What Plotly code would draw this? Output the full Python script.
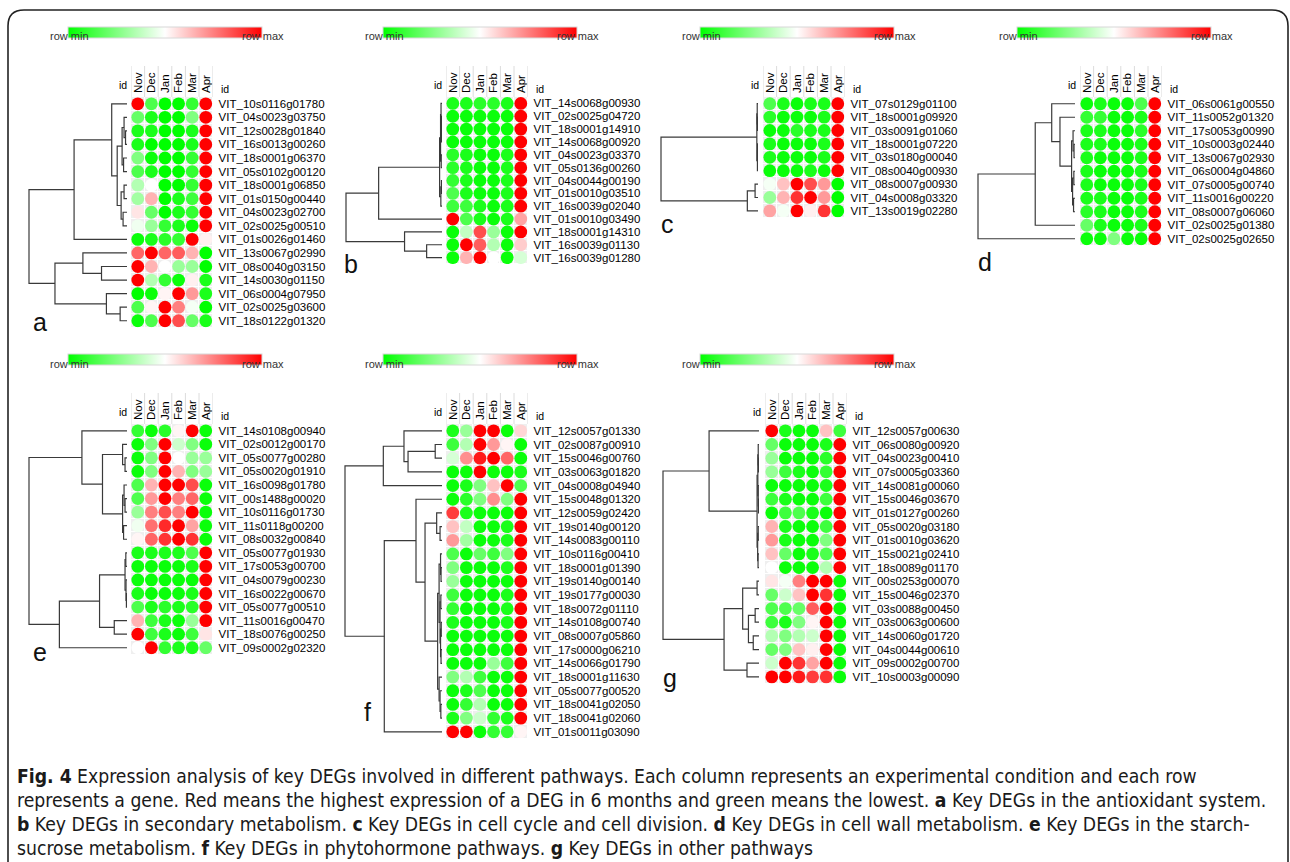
import plotly.graph_objects as go

W, H = 1290, 862
FONT = "Liberation Sans, Arial, sans-serif"
CAPFONT = "Liberation Sans Narrow, Arial Narrow, DejaVu Sans Condensed, sans-serif"

months = ["Nov", "Dec", "Jan", "Feb", "Mar", "Apr"]

# ---------------- data (0 = row min / green, 1 = row max / red) ----------------
genes_a = ["VIT_10s0116g01780", "VIT_04s0023g03750", "VIT_12s0028g01840", "VIT_16s0013g00260",
           "VIT_18s0001g06370", "VIT_05s0102g00120", "VIT_18s0001g06850", "VIT_01s0150g00440",
           "VIT_04s0023g02700", "VIT_02s0025g00510", "VIT_01s0026g01460", "VIT_13s0067g02990",
           "VIT_08s0040g03150", "VIT_14s0030g01150", "VIT_06s0004g07950", "VIT_02s0025g03600",
           "VIT_18s0122g01320"]
vals_a = [[1.0, 0.15, 0.0, 0.0, 0.1, 1.0],
          [0.2, 0.05, 0.0, 0.0, 0.25, 1.0],
          [0.05, 0.05, 0.0, 0.0, 0.05, 1.0],
          [0.05, 0.0, 0.0, 0.0, 0.05, 1.0],
          [0.25, 0.02, 0.0, 0.0, 0.1, 1.0],
          [0.15, 0.05, 0.0, 0.0, 0.1, 1.0],
          [0.35, 0.5, 0.0, 0.0, 0.1, 1.0],
          [0.32, 0.65, 0.0, 0.05, 0.12, 1.0],
          [0.55, 0.2, 0.0, 0.05, 0.1, 1.0],
          [0.47, 0.3, 0.1, 0.05, 0.02, 1.0],
          [0.02, 0.05, 0.08, 0.1, 1.0, 0.53],
          [0.8, 1.0, 0.8, 0.82, 0.65, 0.0],
          [1.0, 0.65, 0.5, 0.3, 0.3, 0.0],
          [1.0, 0.35, 0.1, 0.02, 0.53, 0.05],
          [0.0, 0.02, 0.52, 1.0, 0.7, 0.05],
          [0.15, 0.52, 1.0, 0.75, 0.48, 0.0],
          [0.02, 0.15, 1.0, 0.85, 0.2, 0.05]]
tree_a = (1.0,
          (0.54, (0.156, 0, (0.1, (0.05, (0.03, 1, (0.015, 2, 3)), (0.035, 4, 5)),
                              (0.06, (0.03, 6, 7), (0.04, 8, 9)))), 10),
          (0.735, (0.45, 11, (0.26, 12, 13)), (0.21, 14, (0.07, 15, 16))))

genes_b = ["VIT_14s0068g00930", "VIT_02s0025g04720", "VIT_18s0001g14910", "VIT_14s0068g00920",
           "VIT_04s0023g03370", "VIT_05s0136g00260", "VIT_04s0044g00190", "VIT_01s0010g03510",
           "VIT_16s0039g02040", "VIT_01s0010g03490", "VIT_18s0001g14310", "VIT_16s0039g01130",
           "VIT_16s0039g01280"]
vals_b = [[0.05, 0.05, 0.08, 0.08, 0.05, 1.0],
          [0.02, 0.02, 0.02, 0.02, 0.02, 1.0],
          [0.02, 0.02, 0.02, 0.02, 0.02, 1.0],
          [0.02, 0.02, 0.02, 0.02, 0.02, 1.0],
          [0.08, 0.05, 0.02, 0.02, 0.05, 1.0],
          [0.08, 0.05, 0.02, 0.02, 0.05, 1.0],
          [0.1, 0.05, 0.02, 0.02, 0.05, 1.0],
          [0.15, 0.05, 0.02, 0.02, 0.05, 1.0],
          [0.12, 0.12, 0.05, 0.02, 0.05, 1.0],
          [1.0, 0.15, 0.05, 0.02, 0.05, 0.68],
          [0.02, 0.38, 0.85, 0.3, 0.02, 1.0],
          [0.02, 1.0, 0.82, 0.35, 0.02, 0.6],
          [0.02, 0.65, 1.0, 0.5, 0.02, 0.42]]
tree_b = (1.0,
          (0.66, (0.025, (0.015, (0.01, 0, (0.006, 1, (0.004, 2, 3))), (0.008, 4, 5)),
                  (0.012, (0.006, 6, 7), 8)), 9),
          (0.39, 10, (0.16, 11, 12)))

genes_c = ["VIT_07s0129g01100", "VIT_18s0001g09920", "VIT_03s0091g01060", "VIT_18s0001g07220",
           "VIT_03s0180g00040", "VIT_08s0040g00930", "VIT_08s0007g00930", "VIT_04s0008g03320",
           "VIT_13s0019g02280"]
vals_c = [[0.15, 0.05, 0.02, 0.05, 0.05, 1.0],
          [0.08, 0.02, 0.02, 0.02, 0.05, 1.0],
          [0.02, 0.02, 0.08, 0.05, 0.05, 1.0],
          [0.05, 0.02, 0.02, 0.02, 0.05, 1.0],
          [0.05, 0.02, 0.02, 0.02, 0.05, 1.0],
          [0.02, 0.02, 0.02, 0.05, 0.02, 1.0],
          [0.48, 0.62, 1.0, 0.85, 0.7, 0.0],
          [0.3, 0.65, 0.9, 1.0, 0.7, 0.0],
          [0.68, 0.48, 1.0, 0.53, 0.9, 0.0]]
tree_c = (1.0,
          (0.012, (0.008, 0, (0.005, 1, 2)), (0.006, (0.004, 3, 4), 5)),
          (0.11, (0.03, 6, 7), 8))

genes_d = ["VIT_06s0061g00550", "VIT_11s0052g01320", "VIT_17s0053g00990", "VIT_10s0003g02440",
           "VIT_13s0067g02930", "VIT_06s0004g04860", "VIT_07s0005g00740", "VIT_11s0016g00220",
           "VIT_08s0007g06060", "VIT_02s0025g01380", "VIT_02s0025g02650"]
vals_d = [[0.02, 0.05, 0.02, 0.02, 0.15, 1.0],
          [0.1, 0.1, 0.02, 0.02, 0.05, 1.0],
          [0.05, 0.05, 0.02, 0.02, 0.08, 1.0],
          [0.05, 0.05, 0.02, 0.02, 0.05, 1.0],
          [0.05, 0.02, 0.02, 0.02, 0.05, 1.0],
          [0.05, 0.02, 0.02, 0.02, 0.05, 1.0],
          [0.05, 0.02, 0.02, 0.02, 0.05, 1.0],
          [0.05, 0.05, 0.02, 0.02, 0.05, 1.0],
          [0.08, 0.05, 0.02, 0.02, 0.05, 1.0],
          [0.2, 0.05, 0.02, 0.02, 0.05, 1.0],
          [0.02, 0.02, 0.25, 0.02, 0.02, 1.0]]
tree_d = (1.0,
          (0.41, (0.24, 0, (0.155, 1, (0.035, (0.02, 2, (0.01, 3, 4)),
                                        (0.025, (0.012, 5, 6), (0.015, 7, 8))))), 9),
          10)

genes_e = ["VIT_14s0108g00940", "VIT_02s0012g00170", "VIT_05s0077g00280", "VIT_05s0020g01910",
           "VIT_16s0098g01780", "VIT_00s1488g00020", "VIT_10s0116g01730", "VIT_11s0118g00200",
           "VIT_08s0032g00840", "VIT_05s0077g01930", "VIT_17s0053g00700", "VIT_04s0079g00230",
           "VIT_16s0022g00670", "VIT_05s0077g00510", "VIT_11s0016g00470", "VIT_18s0076g00250",
           "VIT_09s0002g02320"]
vals_e = [[0.1, 0.02, 0.08, 0.52, 1.0, 0.02],
          [0.02, 0.25, 1.0, 0.4, 0.25, 0.02],
          [0.02, 0.25, 1.0, 0.5, 0.3, 0.3],
          [0.02, 0.25, 1.0, 0.65, 0.25, 0.3],
          [0.15, 0.65, 1.0, 1.0, 0.85, 0.02],
          [0.15, 0.7, 1.0, 0.75, 0.8, 0.02],
          [0.3, 0.75, 0.85, 0.75, 1.0, 0.02],
          [0.47, 0.78, 0.92, 1.0, 0.68, 0.02],
          [0.52, 0.8, 0.9, 1.0, 0.9, 0.02],
          [0.05, 0.05, 0.05, 0.05, 0.15, 1.0],
          [0.02, 0.02, 0.02, 0.02, 0.05, 1.0],
          [0.02, 0.02, 0.02, 0.02, 0.02, 1.0],
          [0.05, 0.02, 0.02, 0.02, 0.05, 1.0],
          [0.15, 0.05, 0.08, 0.05, 0.08, 1.0],
          [0.65, 0.12, 0.05, 0.02, 0.3, 1.0],
          [1.0, 0.12, 0.05, 0.02, 0.12, 0.55],
          [0.5, 1.0, 0.1, 0.05, 0.05, 0.2]]
tree_e = (1.0,
          (0.46, 0, (0.25, (0.045, 1, (0.02, 2, 3)),
                     (0.045, (0.03, 4, (0.02, 5, 6)), (0.035, 7, 8)))),
          (0.69, (0.28, (0.02, (0.012, 9, 10), (0.01, 11, (0.006, 12, 13))), (0.13, 14, 15)), 16))

genes_f = ["VIT_12s0057g01330", "VIT_02s0087g00910", "VIT_15s0046g00760", "VIT_03s0063g01820",
           "VIT_04s0008g04940", "VIT_15s0048g01320", "VIT_12s0059g02420", "VIT_19s0140g00120",
           "VIT_14s0083g00110", "VIT_10s0116g00410", "VIT_18s0001g01390", "VIT_19s0140g00140",
           "VIT_19s0177g00030", "VIT_18s0072g01110", "VIT_14s0108g00740", "VIT_08s0007g05860",
           "VIT_17s0000g06210", "VIT_14s0066g01790", "VIT_18s0001g11630", "VIT_05s0077g00520",
           "VIT_18s0041g02050", "VIT_18s0041g02060", "VIT_01s0011g03090"]
vals_f = [[0.05, 0.3, 1.0, 1.0, 0.02, 0.58],
          [0.12, 0.35, 1.0, 0.7, 0.52, 0.02],
          [0.42, 0.72, 0.95, 1.0, 0.8, 0.02],
          [0.02, 0.02, 1.0, 0.02, 0.02, 0.05],
          [0.02, 0.05, 0.25, 0.62, 1.0, 0.15],
          [0.02, 0.08, 0.25, 0.72, 0.25, 1.0],
          [0.88, 0.05, 0.02, 0.02, 0.02, 1.0],
          [0.62, 0.38, 0.02, 0.02, 0.05, 1.0],
          [0.7, 0.32, 0.02, 0.02, 0.05, 1.0],
          [0.15, 0.02, 0.2, 0.12, 0.25, 1.0],
          [0.25, 0.02, 0.02, 0.02, 0.05, 1.0],
          [0.3, 0.02, 0.02, 0.02, 0.02, 1.0],
          [0.12, 0.02, 0.02, 0.02, 0.05, 1.0],
          [0.1, 0.02, 0.02, 0.02, 0.05, 1.0],
          [0.05, 0.02, 0.02, 0.02, 0.05, 1.0],
          [0.02, 0.02, 0.02, 0.02, 0.02, 1.0],
          [0.02, 0.02, 0.02, 0.02, 0.02, 1.0],
          [0.02, 0.02, 0.02, 0.3, 0.12, 1.0],
          [0.25, 0.35, 0.12, 0.02, 0.02, 1.0],
          [0.02, 0.05, 0.15, 0.02, 0.02, 1.0],
          [0.02, 0.1, 0.35, 0.02, 0.02, 1.0],
          [0.05, 0.25, 0.4, 0.1, 0.05, 1.0],
          [1.0, 1.0, 0.02, 0.1, 0.1, 0.52]]
tree_f = (1.0,
          (0.605, (0.392, 0, (0.35, (0.07, 1, 2), 3)), 4),
          (0.595, (0.268, 5, (0.175, (0.055, 6, (0.02, 7, 8)),
                              (0.045, (0.03, (0.015, 9, (0.01, 10, 11)),
                                       (0.02, (0.012, 12, 13), (0.015, (0.008, 14, 15), (0.01, 16, 17)))),
                               (0.03, 18, (0.02, 19, (0.012, 20, 21)))))), 22))

genes_g = ["VIT_12s0057g00630", "VIT_06s0080g00920", "VIT_04s0023g00410", "VIT_07s0005g03360",
           "VIT_14s0081g00060", "VIT_15s0046g03670", "VIT_01s0127g00260", "VIT_05s0020g03180",
           "VIT_01s0010g03620", "VIT_15s0021g02410", "VIT_18s0089g01170", "VIT_00s0253g00070",
           "VIT_15s0046g02370", "VIT_03s0088g00450", "VIT_03s0063g00600", "VIT_14s0060g01720",
           "VIT_04s0044g00610", "VIT_09s0002g00700", "VIT_10s0003g00090"]
vals_g = [[1.0, 0.05, 0.02, 0.02, 0.62, 0.12],
          [0.2, 0.02, 0.02, 0.02, 0.05, 1.0],
          [0.3, 0.02, 0.02, 0.02, 0.08, 1.0],
          [0.3, 0.12, 0.05, 0.02, 0.1, 1.0],
          [0.02, 0.02, 0.02, 0.02, 0.05, 1.0],
          [0.12, 0.05, 0.02, 0.02, 0.12, 1.0],
          [0.02, 0.12, 0.15, 0.05, 0.02, 1.0],
          [0.65, 0.05, 0.02, 0.02, 0.12, 1.0],
          [0.7, 0.05, 0.02, 0.02, 0.25, 1.0],
          [0.62, 0.2, 0.02, 0.05, 0.15, 1.0],
          [0.5, 0.02, 0.02, 0.02, 0.35, 1.0],
          [0.55, 0.48, 0.75, 1.0, 1.0, 0.02],
          [0.2, 0.4, 0.62, 1.0, 0.9, 0.02],
          [0.15, 0.15, 0.2, 0.82, 1.0, 0.02],
          [0.12, 0.05, 0.25, 0.52, 1.0, 0.02],
          [0.35, 0.25, 0.35, 0.4, 1.0, 0.02],
          [0.2, 0.25, 0.62, 0.53, 1.0, 0.02],
          [0.4, 1.0, 0.9, 0.68, 1.0, 0.02],
          [1.0, 1.0, 0.95, 0.88, 0.9, 0.02]]
tree_g = (1.0,
          (0.52, 0, (0.02, (0.012, (0.008, 1, (0.005, 2, 3)), (0.008, 4, (0.005, 5, 6))),
                     (0.014, (0.008, 7, 8), (0.01, 9, 10)))),
          (0.364, (0.17, (0.02, 11, 12), (0.11, (0.04, 13, 14), (0.06, 15, 16))), (0.125, 17, 18)))

caption_lines = [
    "<b>Fig. 4</b> Expression analysis of key DEGs involved in different pathways. Each column represents an experimental condition and each row",
    "represents a gene. Red means the highest expression of a DEG in 6 months and green means the lowest. <b>a</b> Key DEGs in the antioxidant system.",
    "<b>b</b> Key DEGs in secondary metabolism. <b>c</b> Key DEGs in cell cycle and cell division. <b>d</b> Key DEGs in cell wall metabolism. <b>e</b> Key DEGs in the starch-",
    "sucrose metabolism. <b>f</b> Key DEGs in phytohormone pathways. <b>g</b> Key DEGs in other pathways",
]

# ---------------- layout (pixel geometry) ----------------
CW = 13.6
panels = [
    dict(tag="a", genes=genes_a, vals=vals_a, tree=tree_a, left=131, top=97, rh=13.56, dl=29, de=127, letter=(40, 322), bar=(165, 32.5)),
    dict(tag="b", genes=genes_b, vals=vals_b, tree=tree_b, left=446, top=97, rh=12.85, dl=346, de=442, letter=(351, 264), bar=(480, 32.5)),
    dict(tag="c", genes=genes_c, vals=vals_c, tree=tree_c, left=763, top=97, rh=13.4, dl=661, de=758, letter=(667, 224), bar=(797, 32.5)),
    dict(tag="d", genes=genes_d, vals=vals_d, tree=tree_d, left=1080, top=97, rh=13.5, dl=978, de=1075, letter=(985, 262), bar=(1114, 32.5)),
    dict(tag="e", genes=genes_e, vals=vals_e, tree=tree_e, left=131, top=424, rh=13.56, dl=29, de=127, letter=(40, 652), bar=(165, 359.5)),
    dict(tag="f", genes=genes_f, vals=vals_f, tree=tree_f, left=446, top=424, rh=13.68, dl=345, de=442, letter=(367, 712), bar=(480, 359.5)),
    dict(tag="g", genes=genes_g, vals=vals_g, tree=tree_g, left=765, top=424, rh=13.67, dl=663, de=759, letter=(670, 678), bar=(797, 359.5)),
]

CSCALE = [[0.0, "#00ff00"], [0.5, "#ffffff"], [1.0, "#ff0000"]]


def fx(px):
    return px / W


def fy(py):
    return 1 - py / H


def dendro(node, xs, ys):
    if isinstance(node, int):
        return float(node), 0.0
    h, l, r = node
    yl, hl = dendro(l, xs, ys)
    yr, hr = dendro(r, xs, ys)
    xs += [hl, h, h, hr, None]
    ys += [yl, yl, yr, yr, None]
    return (yl + yr) / 2, h


def ref(kind, n):
    return kind if n == 1 else f"{kind}{n}"


fig = go.Figure()
layout = {}
annotations = []
shapes = []
axn = 0
for p in panels:
    n = len(p["genes"])
    hx, dx = axn + 1, axn + 2
    axn += 2
    left, top, rh = p["left"], p["top"], p["rh"]
    right = left + 6 * CW
    bottom = top + n * rh
    ydom = [fy(bottom), fy(top)]
    yr = [n - 0.5, -0.5]

    layout[ref("xaxis", hx)] = dict(
        domain=[fx(left), fx(right)], range=[-0.5, 5.5], anchor=ref("y", hx), side="top",
        tickmode="array", tickvals=list(range(6)), ticktext=months, tickangle=-90, ticks="",
        showgrid=False, zeroline=False, showline=False, fixedrange=True, ticklabelstandoff=3,
        tickfont=dict(family=FONT, size=11.5, color="#000"))
    layout[ref("yaxis", hx)] = dict(
        domain=ydom, range=yr, anchor=ref("x", hx), side="right",
        tickmode="array", tickvals=list(range(n)), ticktext=p["genes"], ticks="",
        showgrid=False, zeroline=False, showline=False, fixedrange=True, ticklabelstandoff=5,
        tickfont=dict(family=FONT, size=11.5, color="#000"))
    layout[ref("xaxis", dx)] = dict(
        domain=[fx(p["dl"] - 2), fx(p["de"])], range=[1.0 + 2.0 / (p["de"] - p["dl"]), 0.0],
        anchor=ref("y", dx), visible=False, fixedrange=True)
    layout[ref("yaxis", dx)] = dict(domain=ydom, range=yr, anchor=ref("x", dx), visible=False, fixedrange=True)

    # cell backgrounds
    fig.add_trace(go.Heatmap(
        z=[[1] * 6 for _ in range(n)], x=list(range(6)), y=list(range(n)),
        colorscale=[[0, "#efefef"], [1, "#efefef"]], showscale=False, xgap=1, ygap=1,
        hoverinfo="skip", xaxis=ref("x", hx), yaxis=ref("y", hx)))

    xs = [j for i in range(n) for j in range(6)]
    ys = [i for i in range(n) for j in range(6)]
    cs = [p["vals"][i][j] for i in range(n) for j in range(6)]
    bx, by = p["bar"]
    fig.add_trace(go.Scatter(
        x=xs, y=ys, mode="markers", xaxis=ref("x", hx), yaxis=ref("y", hx),
        marker=dict(size=12.8, color=cs, cmin=0, cmax=1, colorscale=CSCALE, line=dict(width=0),
                    showscale=True,
                    colorbar=dict(orientation="h", x=fx(bx), xanchor="center", y=fy(by), yanchor="middle",
                                  len=194, lenmode="pixels", thickness=11, thicknessmode="pixels",
                                  outlinewidth=1, outlinecolor="#d8d8d8", showticklabels=False,
                                  ticks="", xpad=0, ypad=0)),
        hoverinfo="skip", showlegend=False))

    dxs, dys = [], []
    dendro(p["tree"], dxs, dys)
    fig.add_trace(go.Scatter(
        x=dxs, y=dys, mode="lines", line=dict(color="#3a3a3a", width=1.2),
        xaxis=ref("x", dx), yaxis=ref("y", dx), hoverinfo="skip", showlegend=False))

    # header separators
    for k in range(7):
        shapes.append(dict(type="line", xref=ref("x", hx), yref="paper", x0=k - 0.5, x1=k - 0.5,
                           y0=fy(top), y1=fy(top - 31), line=dict(color="#dcdcdc", width=1)))
    # "id" labels
    annotations.append(dict(x=fx(left - 2), y=fy(top - 4), xref="paper", yref="paper", text="id",
                            showarrow=False, xanchor="right", yanchor="bottom",
                            font=dict(family=FONT, size=10.5, color="#000")))
    annotations.append(dict(x=fx(right + 6), y=fy(top - 0.5), xref="paper", yref="paper", text="id",
                            showarrow=False, xanchor="left", yanchor="bottom",
                            font=dict(family=FONT, size=10.5, color="#000")))
    # panel letter
    lx, ly = p["letter"]
    annotations.append(dict(x=fx(lx), y=fy(ly), xref="paper", yref="paper", text=p["tag"],
                            showarrow=False, xanchor="center", yanchor="middle",
                            font=dict(family=FONT, size=25, color="#111")))
    # colour bar labels
    annotations.append(dict(x=fx(bx - 97 + 23), y=fy(by + 4), xref="paper", yref="paper", text="row min",
                            showarrow=False, xanchor="right", yanchor="middle",
                            font=dict(family=FONT, size=11, color="#333")))
    annotations.append(dict(x=fx(bx + 97 - 22), y=fy(by + 4), xref="paper", yref="paper", text="row max",
                            showarrow=False, xanchor="left", yanchor="middle",
                            font=dict(family=FONT, size=11, color="#333")))

cap_y = [776, 800, 824, 848.5]
for t, yy in zip(caption_lines, cap_y):
    annotations.append(dict(x=fx(15), y=fy(yy), xref="paper", yref="paper", text=t, showarrow=False,
                            xanchor="left", yanchor="middle", font=dict(family=CAPFONT, size=19.2, color="#1a1a1a")))

# outer rounded frame
shapes.append(dict(type="path", xref="paper", yref="paper",
                   path=f"M {fx(8)} {fy(868)} L {fx(8)} {fy(26)} Q {fx(8)} {fy(10)} {fx(24)} {fy(10)} "
                        f"L {fx(1272)} {fy(10)} Q {fx(1288)} {fy(10)} {fx(1288)} {fy(26)} L {fx(1288)} {fy(868)}",
                   line=dict(color="#222", width=1.6)))

fig.update_layout(width=W, height=H, margin=dict(l=0, r=0, t=0, b=0), paper_bgcolor="white",
                  plot_bgcolor="rgba(0,0,0,0)", showlegend=False, annotations=annotations, shapes=shapes,
                  **layout)
fig.write_html("out.html", config={"displayModeBar": False},
               post_script="document.body.style.margin='0px';document.body.style.overflow='hidden';")
